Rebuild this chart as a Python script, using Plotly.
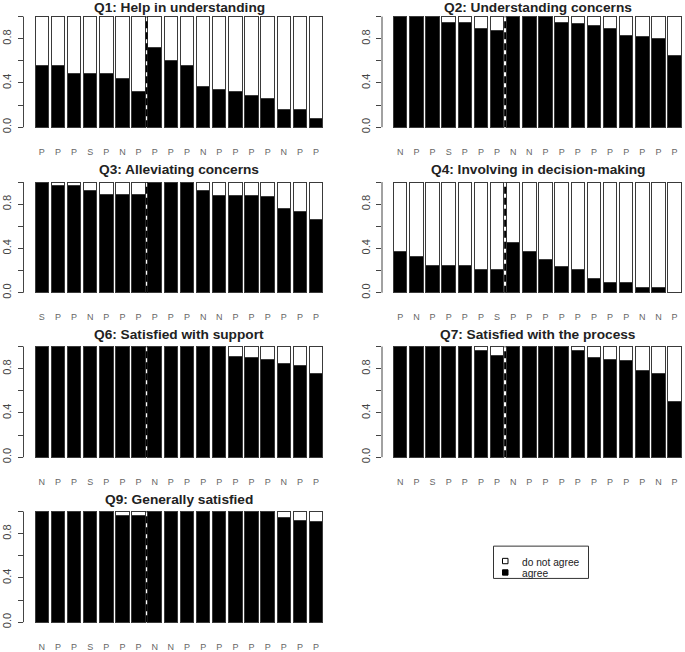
import plotly.graph_objects as go

# canvas
W, H = 685, 652

titles = [
    "Q1: Help in understanding",
    "Q2: Understanding concerns",
    "Q3: Alleviating concerns",
    "Q4: Involving in decision-making",
    "Q6: Satisfied with support",
    "Q7: Satisfied with the process",
    "Q9: Generally satisfied",
]

# group letters under each bar
labels_q1 = ["P", "P", "P", "S", "P", "N", "P", "P", "P", "P", "N", "P", "P", "P", "P", "N", "P", "P"]
labels_q2 = ["N", "P", "P", "S", "P", "P", "P", "N", "N", "P", "P", "P", "P", "P", "P", "P", "P", "P"]
labels_q3 = ["S", "P", "P", "N", "P", "P", "P", "P", "P", "P", "N", "N", "P", "P", "P", "P", "P", "P"]
labels_q4 = ["P", "N", "P", "P", "P", "P", "S", "P", "P", "P", "P", "P", "P", "P", "P", "N", "N", "P"]
labels_q6 = ["N", "P", "P", "S", "P", "P", "P", "N", "P", "P", "P", "P", "P", "P", "P", "N", "P", "P"]
labels_q7 = ["N", "P", "S", "P", "P", "P", "P", "N", "P", "P", "P", "P", "P", "P", "P", "P", "N", "P"]
labels_q9 = ["N", "P", "P", "S", "P", "P", "P", "N", "N", "P", "P", "P", "P", "P", "P", "P", "P", "P"]

# share of respondents who agree
agree_q1 = [0.56, 0.56, 0.49, 0.49, 0.49, 0.44, 0.32, 0.72, 0.60, 0.56, 0.37, 0.34, 0.32, 0.29, 0.26, 0.16, 0.16, 0.08]
agree_q2 = [1.00, 1.00, 1.00, 0.95, 0.95, 0.89, 0.87, 1.00, 1.00, 1.00, 0.95, 0.94, 0.92, 0.89, 0.83, 0.82, 0.80, 0.65]
agree_q3 = [1.00, 0.97, 0.97, 0.92, 0.89, 0.89, 0.89, 1.00, 1.00, 1.00, 0.92, 0.88, 0.88, 0.88, 0.87, 0.76, 0.73, 0.66]
agree_q4 = [0.37, 0.33, 0.25, 0.25, 0.25, 0.21, 0.21, 0.45, 0.37, 0.30, 0.24, 0.21, 0.13, 0.09, 0.09, 0.05, 0.05, 0.00]
agree_q6 = [1.00, 1.00, 1.00, 1.00, 1.00, 1.00, 1.00, 1.00, 1.00, 1.00, 1.00, 1.00, 0.91, 0.90, 0.88, 0.85, 0.83, 0.76]
agree_q7 = [1.00, 1.00, 1.00, 1.00, 1.00, 0.96, 0.92, 1.00, 1.00, 1.00, 1.00, 0.96, 0.90, 0.88, 0.87, 0.78, 0.76, 0.50]
agree_q9 = [1.00, 1.00, 1.00, 1.00, 1.00, 0.96, 0.96, 1.00, 1.00, 1.00, 1.00, 1.00, 1.00, 1.00, 1.00, 0.95, 0.92, 0.91]

panels = [
    (agree_q1, labels_q1), (agree_q2, labels_q2), (agree_q3, labels_q3),
    (agree_q4, labels_q4), (agree_q6, labels_q6), (agree_q7, labels_q7),
    (agree_q9, labels_q9),
]

split_after = 6.5  # dashed separator between bar 7 and 8

# geometry (pixels)
col_axis = [23.5, 382.0]
panel_w = 311.0
row_zero = [128.0, 294.5, 460.0, 626.0]
unit = 111.3
bar_w = 1 / 1.2
x_lo = -1.13
x_span = 19.27
px_per_x = panel_w / x_span


def fx(px):
    return px / W


def fy(px):
    return 1 - px / H


fig = go.Figure()
layout = {}
shapes = []
annotations = []

for i, ((agree, labs), title) in enumerate(zip(panels, titles)):
    r, c = divmod(i, 2)
    k = "" if i == 0 else str(i + 1)
    left = col_axis[c]
    right = min(left + panel_w, W)
    y0 = row_zero[r]
    bottom = y0 + 0.04 * unit
    top = y0 - 1.04 * unit
    xs = list(range(len(agree)))
    disagree = [round(1 - a, 3) for a in agree]

    fig.add_trace(go.Bar(
        x=xs, y=agree, width=bar_w, xaxis="x" + k, yaxis="y" + k,
        marker=dict(color="black", line=dict(color="#3a3a3a", width=1)),
        name="agree", showlegend=False, hoverinfo="skip",
    ))
    fig.add_trace(go.Bar(
        x=xs, y=disagree, width=bar_w, xaxis="x" + k, yaxis="y" + k,
        marker=dict(color="white", line=dict(color="#3a3a3a", width=1)),
        name="do not agree", showlegend=False, hoverinfo="skip",
    ))

    layout["xaxis" + k] = dict(
        domain=[fx(left), fx(right)],
        range=[x_lo, x_lo + (right - left) / px_per_x],
        anchor="y" + k,
        tickvals=xs, ticktext=labs, ticks="", ticklabelstandoff=13,
        tickfont=dict(size=9, color="#666666"),
        showline=False, showgrid=False, zeroline=False, fixedrange=True,
    )
    layout["yaxis" + k] = dict(
        domain=[fy(bottom), fy(top)],
        range=[-0.04, 1.04],
        anchor="x" + k,
        tickvals=[0, 0.2, 0.4, 0.6, 0.8, 1.0],
        ticktext=["0.0", "", "0.4", "", "0.8", ""],
        tickangle=-90, ticks="outside", ticklen=5, tickcolor="#444444",
        tickfont=dict(size=11, color="#444444"), ticklabelstandoff=2,
        showline=False, showgrid=False, zeroline=False, fixedrange=True,
    )

    # axis line only from 0 to 1, as in base R
    shapes.append(dict(
        type="line", xref="x" + k + " domain", yref="y" + k,
        x0=0, x1=0, y0=0, y1=1, line=dict(color="#444444", width=1),
    ))
    shapes.append(dict(
        type="line", xref="x" + k, yref="y" + k,
        x0=split_after, x1=split_after, y0=0, y1=1,
        line=dict(color="black", width=2, dash="7px,4px"),
    ))

    annotations.append(dict(
        text=title, xref="paper", yref="paper",
        x=fx(left + panel_w / 2), y=fy(max(top + 4.45 - 12.5, 7.5)),
        xanchor="center", yanchor="middle", showarrow=False,
        font=dict(size=13.7, color="#222222", weight="bold"),
    ))

# legend box drawn by hand (R-style)
shapes.append(dict(type="rect", xref="paper", yref="paper",
                   x0=fx(493.5), x1=fx(588.5), y0=fy(549.5), y1=fy(582.0),
                   line=dict(color="#333333", width=1), fillcolor="white"))
legend_items = [("do not agree", "white", 564.5), ("agree", "black", 576.0)]
for text, col, ypx in legend_items:
    shapes.append(dict(type="rect", xref="paper", yref="paper",
                       x0=fx(502.5), x1=fx(508.0), y0=fy(ypx - 2.7), y1=fy(ypx + 2.7),
                       line=dict(color="black", width=1), fillcolor=col))
    annotations.append(dict(
        text=text, xref="paper", yref="paper", x=fx(520), y=fy(ypx + 1),
        xanchor="left", yanchor="middle", showarrow=False,
        font=dict(size=10.2, color="#222222"),
    ))

fig.update_layout(
    **layout,
    barmode="stack",
    width=W, height=H,
    margin=dict(l=0, r=0, t=0, b=0),
    paper_bgcolor="white", plot_bgcolor="white",
    font=dict(family="Liberation Sans, Arial, sans-serif"),
    shapes=shapes, annotations=annotations,
    showlegend=False,
)

# drop the browser's default page margin so the figure sits at (0, 0)
fig.write_html(
    "out.html",
    config={"displayModeBar": False},
    post_script="document.body.style.margin='0';document.body.style.overflow='hidden';",
)
